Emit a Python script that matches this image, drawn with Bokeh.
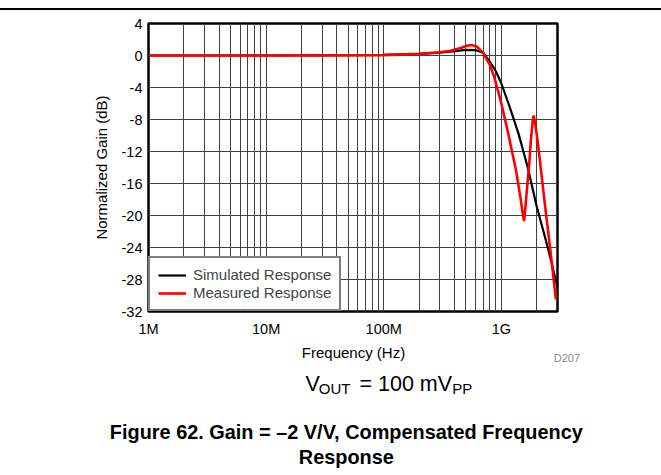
from bokeh.plotting import figure
from bokeh.models import Range1d, FixedTicker, Legend, LegendItem, Div
from bokeh.core.properties import value
from bokeh.layouts import column
from bokeh.embed import file_html
from bokeh.resources import INLINE

# ---------------- data ----------------
sim_freq = [1e6, 1e7, 3e7, 1e8, 2e8, 3e8, 4e8, 5e8, 6e8, 7e8, 8e8, 9e8,
            1e9, 1.2e9, 1.4e9, 1.67e9, 2.0e9, 2.47e9, 3e9]
sim_gain = [0.0, 0.0, 0.02, 0.08, 0.2, 0.35, 0.55, 0.7, 0.68, 0.35, -0.8, -2.0,
            -3.5, -6.8, -9.8, -13.9, -18.9, -23.9, -29.0]

meas_freq = [1e6, 1e7, 1e8, 2e8, 3e8, 3.7e8, 4.5e8, 5.2e8, 5.6e8, 6.2e8, 7e8,
             8e8, 8.7e8, 1e9, 1.13e9, 1.33e9, 1.45e9, 1.52e9, 1.56e9, 1.6e9,
             1.67e9, 1.73e9, 1.78e9, 1.85e9, 1.88e9, 1.93e9, 2.03e9, 2.31e9,
             2.64e9, 2.91e9]
meas_gain = [0.0, 0.0, 0.05, 0.2, 0.4, 0.6, 0.95, 1.25, 1.3, 1.1, 0.3,
             -1.2, -2.7, -6.0, -9.4, -14.3, -17.7, -19.8, -20.7, -19.0,
             -15.8, -13.3, -10.7, -8.0, -7.5, -8.3, -10.6, -17.8,
             -25.0, -30.5]

x_major = [1e6, 1e7, 1e8, 1e9]
x_major_labels = ["1M", "10M", "100M", "1G"]
x_minor = [m * d for d in (1e6, 1e7, 1e8) for m in range(2, 10)] + [2e9, 3e9]
y_ticks = [4, 0, -4, -8, -12, -16, -20, -24, -28, -32]
y_tick_labels = ["4", "0", "-4", "-8", "-12", "-16", "-20", "-24", "-28", "-32"]

series_names = ["Simulated Response", "Measured Response"]
series_colors = ["#000000", "#ff0000"]

x_title = "Frequency (Hz)"
y_title = "Normalized Gain (dB)"
code_label = "D207"
caption_1 = "Figure 62. Gain = \u20132 V/V, Compensated Frequency"
caption_2 = "Response"

FONT = "Liberation Sans"

# ---------------- layout ----------------
W = 661
RULE_H = 10
H1 = 329
H2 = 475 - RULE_H - H1

rule = Div(text='<div style="position:absolute;left:0;top:8px;width:661px;'
                'height:1.6px;background:#000"></div>',
           width=W, height=RULE_H, margin=(0, 0, 0, 0))

p = figure(width=W, height=H1, x_axis_type="log",
           x_range=Range1d(1e6, 3e9), y_range=Range1d(-32, 4),
           output_backend="svg", toolbar_location=None,
           min_border_left=148, min_border_right=104,
           min_border_top=13, min_border_bottom=27, margin=(0, 0, 0, 0))
p.frame_align = False
p.background_fill_color = "white"
p.border_fill_color = "white"
p.outline_line_color = "black"
p.outline_line_width = 2.5

p.xaxis.ticker = FixedTicker(ticks=x_major, minor_ticks=x_minor)
p.xaxis.major_label_overrides = {t: l for t, l in zip(x_major, x_major_labels)}
p.yaxis.ticker = FixedTicker(ticks=y_ticks)
p.yaxis.major_label_overrides = {t: l for t, l in zip(y_ticks, y_tick_labels)}

for ax in (p.xaxis[0], p.yaxis[0]):
    ax.axis_line_color = None
    ax.major_tick_line_color = None
    ax.minor_tick_line_color = None
    ax.major_tick_out = 0
    ax.major_tick_in = 0
    ax.minor_tick_out = 0
    ax.minor_tick_in = 0
    ax.major_label_text_font = FONT
    ax.major_label_text_font_size = "14.5px"
    ax.major_label_text_color = "black"
    ax.axis_label_text_font = FONT
    ax.axis_label_text_font_size = "15px"
    ax.axis_label_text_font_style = "normal"
    ax.axis_label_text_color = "black"

p.yaxis.axis_label = y_title
p.xaxis.major_label_standoff = 9
p.yaxis.major_label_standoff = 6
p.yaxis.axis_label_standoff = 9

grid_col = "#404040"
p.xgrid.grid_line_color = grid_col
p.xgrid.minor_grid_line_color = grid_col
p.xgrid.grid_line_width = 1
p.xgrid.minor_grid_line_width = 1
p.ygrid.grid_line_color = grid_col
p.ygrid.grid_line_width = 1

r_sim = p.line(sim_freq, sim_gain, line_color=series_colors[0], line_width=2.2)
r_meas = p.line(meas_freq, meas_gain, line_color=series_colors[1], line_width=2.6)

legend = Legend(items=[LegendItem(label=series_names[0], renderers=[r_sim]),
                       LegendItem(label=series_names[1], renderers=[r_meas])],
                location="bottom_left", margin=0, padding=8, spacing=1,
                glyph_width=28, glyph_height=16, label_height=16,
                label_standoff=7,
                label_text_font=FONT, label_text_font_size="15px",
                border_line_color="black", border_line_width=2,
                background_fill_color="white", background_fill_alpha=1)
p.add_layout(legend, "center")

# ---------------- text panel below the chart (pixel coordinates) ----------------
t = figure(width=W, height=H2, x_range=Range1d(0, W), y_range=Range1d(H2, 0),
           x_axis_type=None, y_axis_type=None, output_backend="svg",
           toolbar_location=None, min_border=0, margin=(0, 0, 0, 0))
t.frame_align = False
t.outline_line_color = None
t.background_fill_color = "white"
t.border_fill_color = "white"


def txt(s, x, y, size, style="normal", color="black", align="left"):
    t.text(x=[x], y=[y], text=[s], text_font=value(FONT),
           text_font_size=size, text_font_style=style, text_color=color,
           text_align=align, text_baseline="alphabetic")


txt(x_title, 353, 12.7, "15px", align="center")
txt(code_label, 553.3, 18.3, "11px", color="#8c8c8c")
txt("V", 305, 44, "21.5px")
txt("OUT", 318.3, 48.7, "15px")
txt("= 100 mV", 359, 44, "21.5px")
txt("PP", 451.7, 48.7, "15px")
txt(caption_1, 345.8, 92, "19.9px", style="bold", align="center")
txt(caption_2, 345.8, 117.7, "19.9px", style="bold", align="center")

layout = column(rule, p, t, spacing=0)
open("out.html", "w").write(file_html(layout, INLINE))
